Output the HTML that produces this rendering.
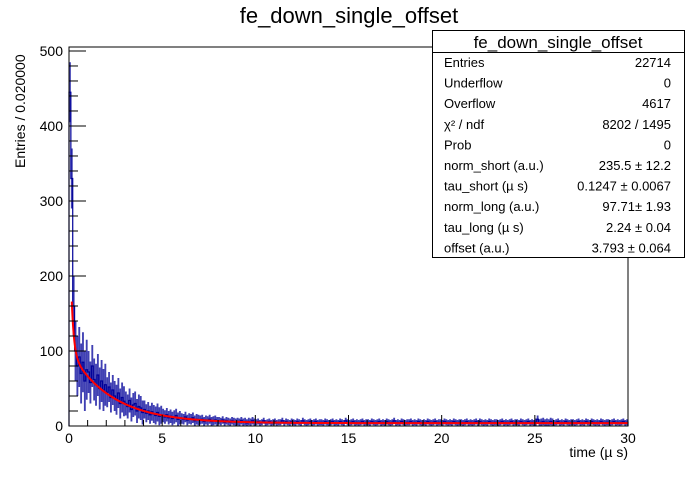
<!DOCTYPE html>
<html><head><meta charset="utf-8"><style>
body{margin:0;background:#fff;}
svg text{font-family:"Liberation Sans",Arial,sans-serif;}
</style></head><body>
<svg id="c" width="698" height="474" viewBox="0 0 698 474" xmlns="http://www.w3.org/2000/svg">
<rect width="698" height="474" fill="#fff"/>
<text x="349" y="23" font-size="22" text-anchor="middle">fe_down_single_offset</text>
<g id="plot"></g>
<rect x="69" y="47" width="559" height="379" fill="none" stroke="#000" stroke-width="1"/>
<g id="axes"></g>
<text x="628" y="457" font-size="14" text-anchor="end">time (µ s)</text>
<text transform="translate(25,168) rotate(-90)" font-size="14" text-anchor="start">Entries / 0.020000</text>
<g>
<rect x="432.5" y="30.5" width="252" height="227" fill="#fff" stroke="#000"/>
<line x1="432.5" y1="52.5" x2="684.5" y2="52.5" stroke="#000"/>
<text x="558" y="48" font-size="17" text-anchor="middle">fe_down_single_offset</text>
<g id="stats" font-size="13"></g>
</g>
</svg>
<script>
const binWidth = 0.1;
const counts = [445,330,160,100,80,92,70,85,60,75,
72,58,80,62,55,68,50,60,48,55,
45,52,38,48,40,35,44,30,38,33,
30,26,34,22,28,30,20,26,24,18,
22,17,20,15,19,16,14,18,13,15,
14,12,15,11,13,10,12,14,9,11,
10,9,12,8,10,9,11,7,9,8,
8,9,6,8,7,9,6,7,8,6,
7,6,8,5,7,6,5,7,6,5,
6,5,7,5,6,4,6,5,7,5,
5,6,4,5,7,4,5,6,4,5,
6,4,5,5,7,4,6,5,4,6,
5,4,6,5,4,7,5,4,5,6,
4,5,6,4,5,5,4,6,5,4,
5,6,4,5,4,6,5,4,7,5,
4,5,6,4,5,4,5,6,4,5,
5,4,6,5,4,5,6,4,5,4,
6,5,4,5,7,4,5,4,6,5,
4,5,5,6,4,5,4,6,5,4,
5,4,6,5,4,5,6,4,5,5,
4,6,5,4,5,4,6,5,4,5,
5,4,5,6,4,5,4,5,6,4,
6,5,4,5,4,6,5,4,5,5,
4,5,6,4,5,4,5,6,4,5,
5,4,6,5,4,5,6,4,5,4,
5,9,4,5,6,4,5,4,6,5,
4,5,6,4,5,4,6,5,4,5,
5,4,5,6,4,5,4,6,5,4,
6,5,4,5,4,6,5,4,5,5,
4,5,6,4,5,4,5,6,4,5];
// visible fluctuation half-range of the 0.02 bins, per 1-unit interval
const spread = [40,28,20,16,12,9,7,6,5,5,4,4,4,4,4,4,4,4,4,4,4,4,4,4,4,5,4,4,4,4];
const fitParams = {normShort:235.5, tauShort:0.1247, normLong:97.71, tauLong:2.24, offset:3.793};
const xTicks = [0,5,10,15,20,25,30];
const yTicks = [0,100,200,300,400,500];
const statLabels = ["Entries","Underflow","Overflow","χ² / ndf","Prob","norm_short (a.u.)","tau_short (µ s)","norm_long (a.u.)","tau_long (µ s)","offset (a.u.)"];
const statValues = ["22714","0","4617","8202 / 1495","0","235.5 ± 12.2","0.1247 ± 0.0067","97.71± 1.93","2.24 ± 0.04","3.793 ± 0.064"];

const NS="http://www.w3.org/2000/svg";
const X0=69,X1=628,Y0=426,Y1=47;
const xs=v=>X0+(v/30)*(X1-X0);
const ys=v=>Y0-(v/505.3)*(Y0-Y1);
function mk(t,a,p){const e=document.createElementNS(NS,t);for(const k in a)e.setAttribute(k,a[k]);p.appendChild(e);return e;}
const plot=document.getElementById('plot'), axes=document.getElementById('axes');
// fluctuation bands
const band=mk('g',{fill:'#000099','fill-opacity':0.75},plot);


counts.forEach((c,i)=>{const t=i*binWidth;const s=spread[Math.min(29,Math.floor(t))];
const lo=Math.max(0,c-s), hi=c+s;
mk('rect',{x:xs(t),y:ys(hi),width:xs(binWidth)-xs(0),height:ys(lo)-ys(hi)},band);});
// histogram
let d="M"+xs(0)+","+ys(0);
counts.forEach((c,i)=>{d+=" L"+xs(i*binWidth)+","+ys(c)+" L"+xs((i+1)*binWidth)+","+ys(c);});
d+=" L"+xs(counts.length*binWidth)+","+ys(0);
const h=mk('path',{d:d,fill:'none',stroke:'#000099','stroke-width':1.2},plot);


// fit
let f="";
for(let t=0.15;t<=30;t+=0.02){const p=fitParams;const v=p.normShort*Math.exp(-t/p.tauShort)+p.normLong*Math.exp(-t/p.tauLong)+p.offset;f+=(f?" L":"M")+xs(t).toFixed(2)+","+ys(v).toFixed(2);}
const fl=mk('path',{d:f,fill:'none',stroke:'#ff0000','stroke-width':2},plot);


// x ticks
for(let v=0;v<=30;v++){const maj=v%5===0;mk('line',{x1:xs(v),x2:xs(v),y1:Y0,y2:Y0-(maj?11:6),stroke:'#000'},axes);}
xTicks.forEach(v=>{const t=mk('text',{x:xs(v),y:443,'font-size':14,'text-anchor':'middle'},axes);t.textContent=v;

});
for(let v=0;v<=500;v+=20){const maj=v%100===0;mk('line',{x1:X0,x2:X0+(maj?17:9),y1:ys(v),y2:ys(v),stroke:'#000'},axes);}
yTicks.forEach(v=>{const t=mk('text',{x:63,y:ys(v)+5,'font-size':14,'text-anchor':'end'},axes);t.textContent=v;

});
// stats
const st=document.getElementById('stats');
statLabels.forEach((l,i)=>{const y=67+i*20.6;
const a=mk('text',{x:444,y:y},st);a.textContent=l;


const b=mk('text',{x:671,y:y,'text-anchor':'end'},st);b.textContent=statValues[i];

});
</script>
</body></html>
